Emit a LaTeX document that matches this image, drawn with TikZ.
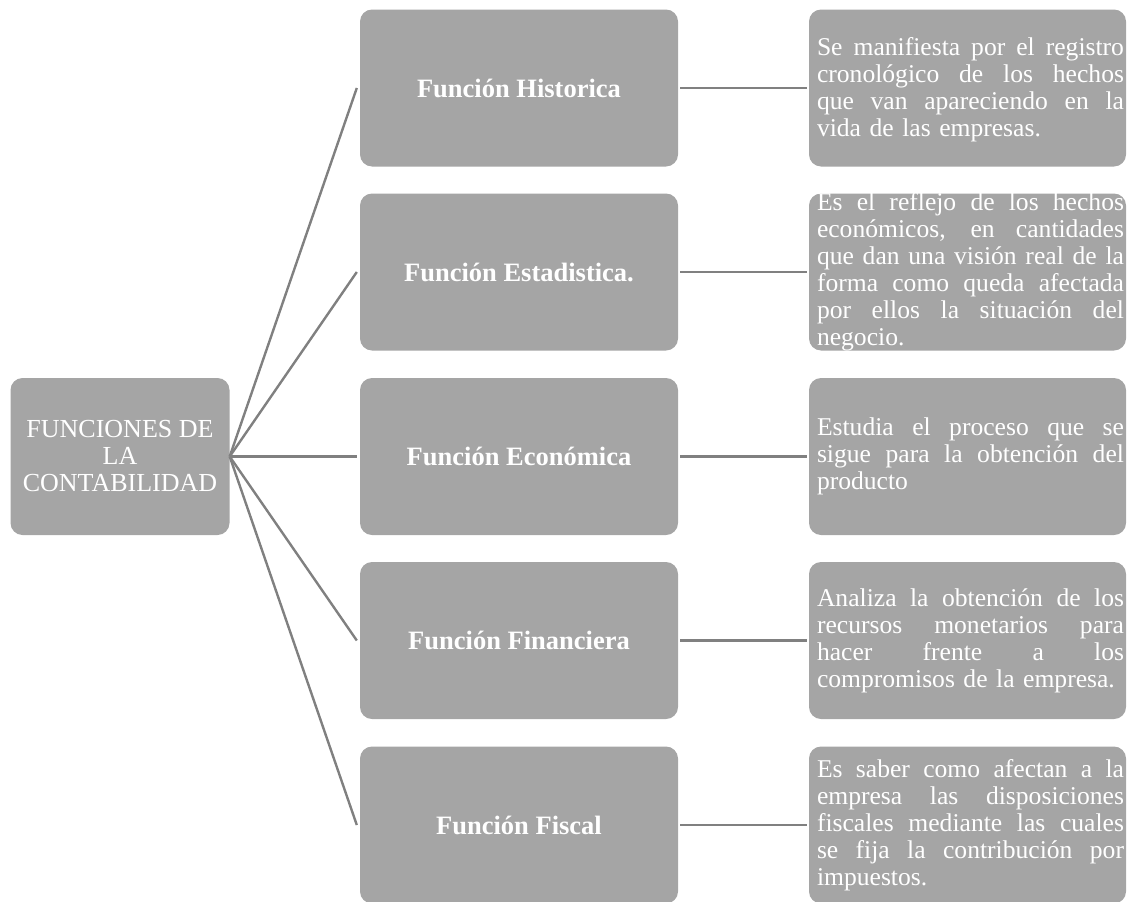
\documentclass[tikz,border=0pt]{standalone}
\usepackage{fontspec}
\setmainfont{Liberation Serif}
\definecolor{boxgray}{HTML}{A5A5A5}
\definecolor{linegray}{HTML}{808080}
% one justified line of a description, stretched to the full text width
\newlength\desccol
\setlength\desccol{307pt}
\newcommand\jline[1]{\leavevmode{\spaceskip=0.25em plus 1fil minus 0.05em\relax
  \hbox to \desccol{#1}}}
\begin{document}
\begin{tikzpicture}[x=1pt,y=-1pt,
  box/.style={fill=boxgray, rounded corners=12pt, inner sep=0pt, text=white},
  rootbox/.style={box, minimum width=219pt, minimum height=157pt,
    align=center, font=\fontsize{26}{27}\selectfont},
  midbox/.style={box, minimum width=318pt, minimum height=157pt,
    font=\fontsize{26.5}{27}\selectfont\bfseries},
  descbox/.style={box, minimum width=317pt, minimum height=157pt},
  desctext/.style={text=white, text width=\desccol, align=left, inner sep=0pt,
    font=\fontsize{25.6}{27}\selectfont},
  link/.style={draw=linegray, line width=2.4pt}]
\useasboundingbox (0,0) rectangle (1130,902);

% root
\node[rootbox] (root) at (120,456.5) {FUNCIONES DE\\LA\\CONTABILIDAD};

% functions
\node[midbox] (m1) at (519,88)    {Función Historica};
\node[midbox] (m2) at (519,272)   {Función Estadistica.};
\node[midbox] (m3) at (519,456.5) {Función Económica};
\node[midbox] (m4) at (519,640.5) {Función Financiera};
\node[midbox] (m5) at (519,825)   {Función Fiscal};

% description boxes
\node[descbox] (d1) at (967.5,88)    {};
\node[descbox] (d2) at (967.5,272)   {};
\node[descbox] (d3) at (967.5,456.5) {};
\node[descbox] (d4) at (967.5,640.5) {};
\node[descbox] (d5) at (967.5,825)   {};

\node[desctext] (t1) at ([xshift=3pt,yshift=-2pt]d1.center) {%
  \jline{Se manifiesta por el registro}\\
  \jline{cronológico de los hechos}\\
  \jline{que van apareciendo en la}\\
  vida de las empresas.};
\node[desctext] (t2) at ([xshift=3pt]d2.center) {%
  \jline{Es el reflejo de los hechos}\\
  \jline{económicos, en cantidades}\\
  \jline{que dan una visión real de la}\\
  \jline{forma como queda afectada}\\
  \jline{por ellos la situación del}\\
  negocio.};
\node[desctext] (t3) at ([xshift=3pt]d3.center) {%
  \jline{Estudia el proceso que se}\\
  \jline{sigue para la obtención del}\\
  producto};
\node[desctext] (t4) at ([xshift=3pt]d4.center) {%
  \jline{Analiza la obtención de los}\\
  \jline{recursos monetarios para}\\
  \jline{hacer frente a los}\\
  compromisos de la empresa.};
\node[desctext] (t5) at ([xshift=3pt]d5.center) {%
  \jline{Es saber como afectan a la}\\
  \jline{empresa las disposiciones}\\
  \jline{fiscales mediante las cuales}\\
  \jline{se fija la contribución por}\\
  impuestos.};

% connectors
\foreach \i in {1,...,5} {
  \draw[link] (root.east) -- ([xshift=-3pt]m\i.west);
  \draw[link] ([xshift=2pt]m\i.east) -- ([xshift=-2pt]d\i.west);
}
\end{tikzpicture}
\end{document}
